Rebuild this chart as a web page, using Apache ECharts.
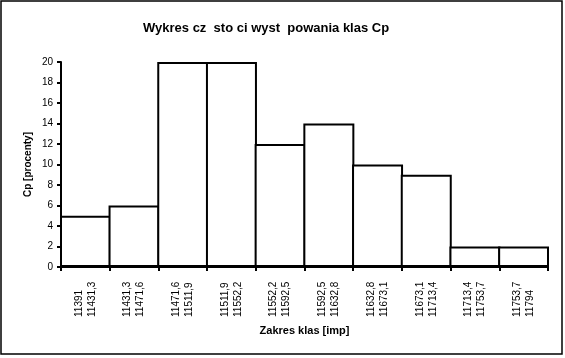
<!DOCTYPE html>
<html>
<head>
<meta charset="utf-8">
<script src="https://cdn.jsdelivr.net/npm/echarts@6/dist/echarts.min.js"></script>
<style>html,body{margin:0;padding:0;background:#fff;}#c{width:565px;height:358px;}</style>
</head>
<body>
<div id="c"></div>
<script>
var categories = ["11391\n11431,3","11431,3\n11471,6","11471,6\n11511,9","11511,9\n11552,2","11552,2\n11592,5","11592,5\n11632,8","11632,8\n11673,1","11673,1\n11713,4","11713,4\n11753,7","11753,7\n11794"];
var values = [5, 6, 20, 20, 12, 14, 10, 9, 2, 2];
var titleText = "Wykres cz  sto ci wyst  powania klas Cp";
var yName = "Cp [procenty]";
var xName = "Zakres klas [imp]";

var chart = echarts.init(document.getElementById('c'), null, {renderer: 'canvas'});
var font = 'Liberation Sans, Arial, sans-serif';
chart.setOption({
  animation: false,
  backgroundColor: '#fff',
  title: {
    text: titleText, left: 138, top: 17,
    textStyle: {fontFamily: font, fontSize: 13, fontWeight: 'bold', color: '#000'}
  },
  grid: {left: 61, right: 17, top: 62, bottom: 91},
  xAxis: {
    type: 'category', data: categories,
    name: xName, nameLocation: 'middle', nameGap: 58,
    nameTextStyle: {fontFamily: font, fontSize: 11, fontWeight: 'bold', color: '#000'},
    axisLine: {lineStyle: {color: '#000', width: 2}},
    axisTick: {show: true, length: 4, lineStyle: {color: '#000', width: 2}},
    axisLabel: {rotate: 90, align: 'left', verticalAlign: 'middle', margin: 50, interval: 0,
      fontFamily: font, fontSize: 10, lineHeight: 13, color: '#000'}
  },
  yAxis: {
    type: 'value', min: 0, max: 20, interval: 2,
    name: yName, nameLocation: 'middle', nameGap: 28, nameMoveOverlap: false,
    nameTextStyle: {fontFamily: font, fontSize: 10, fontWeight: 'bold', color: '#000'},
    axisLine: {show: true, lineStyle: {color: '#000', width: 2}},
    axisTick: {show: true, length: 4, lineStyle: {color: '#000', width: 2}},
    axisLabel: {fontFamily: font, fontSize: 10, color: '#000', margin: 8},
    splitLine: {show: false}
  },
  series: [{
    type: 'bar', data: values, barWidth: 51,
    itemStyle: {color: '#fff', borderColor: '#000', borderWidth: 2}
  }],
  graphic: [{
    type: 'rect', shape: {x: 1, y: 1, width: 561, height: 353},
    style: {fill: 'none', stroke: '#000', lineWidth: 1.5}, silent: true
  }]
});
</script>
</body>
</html>
